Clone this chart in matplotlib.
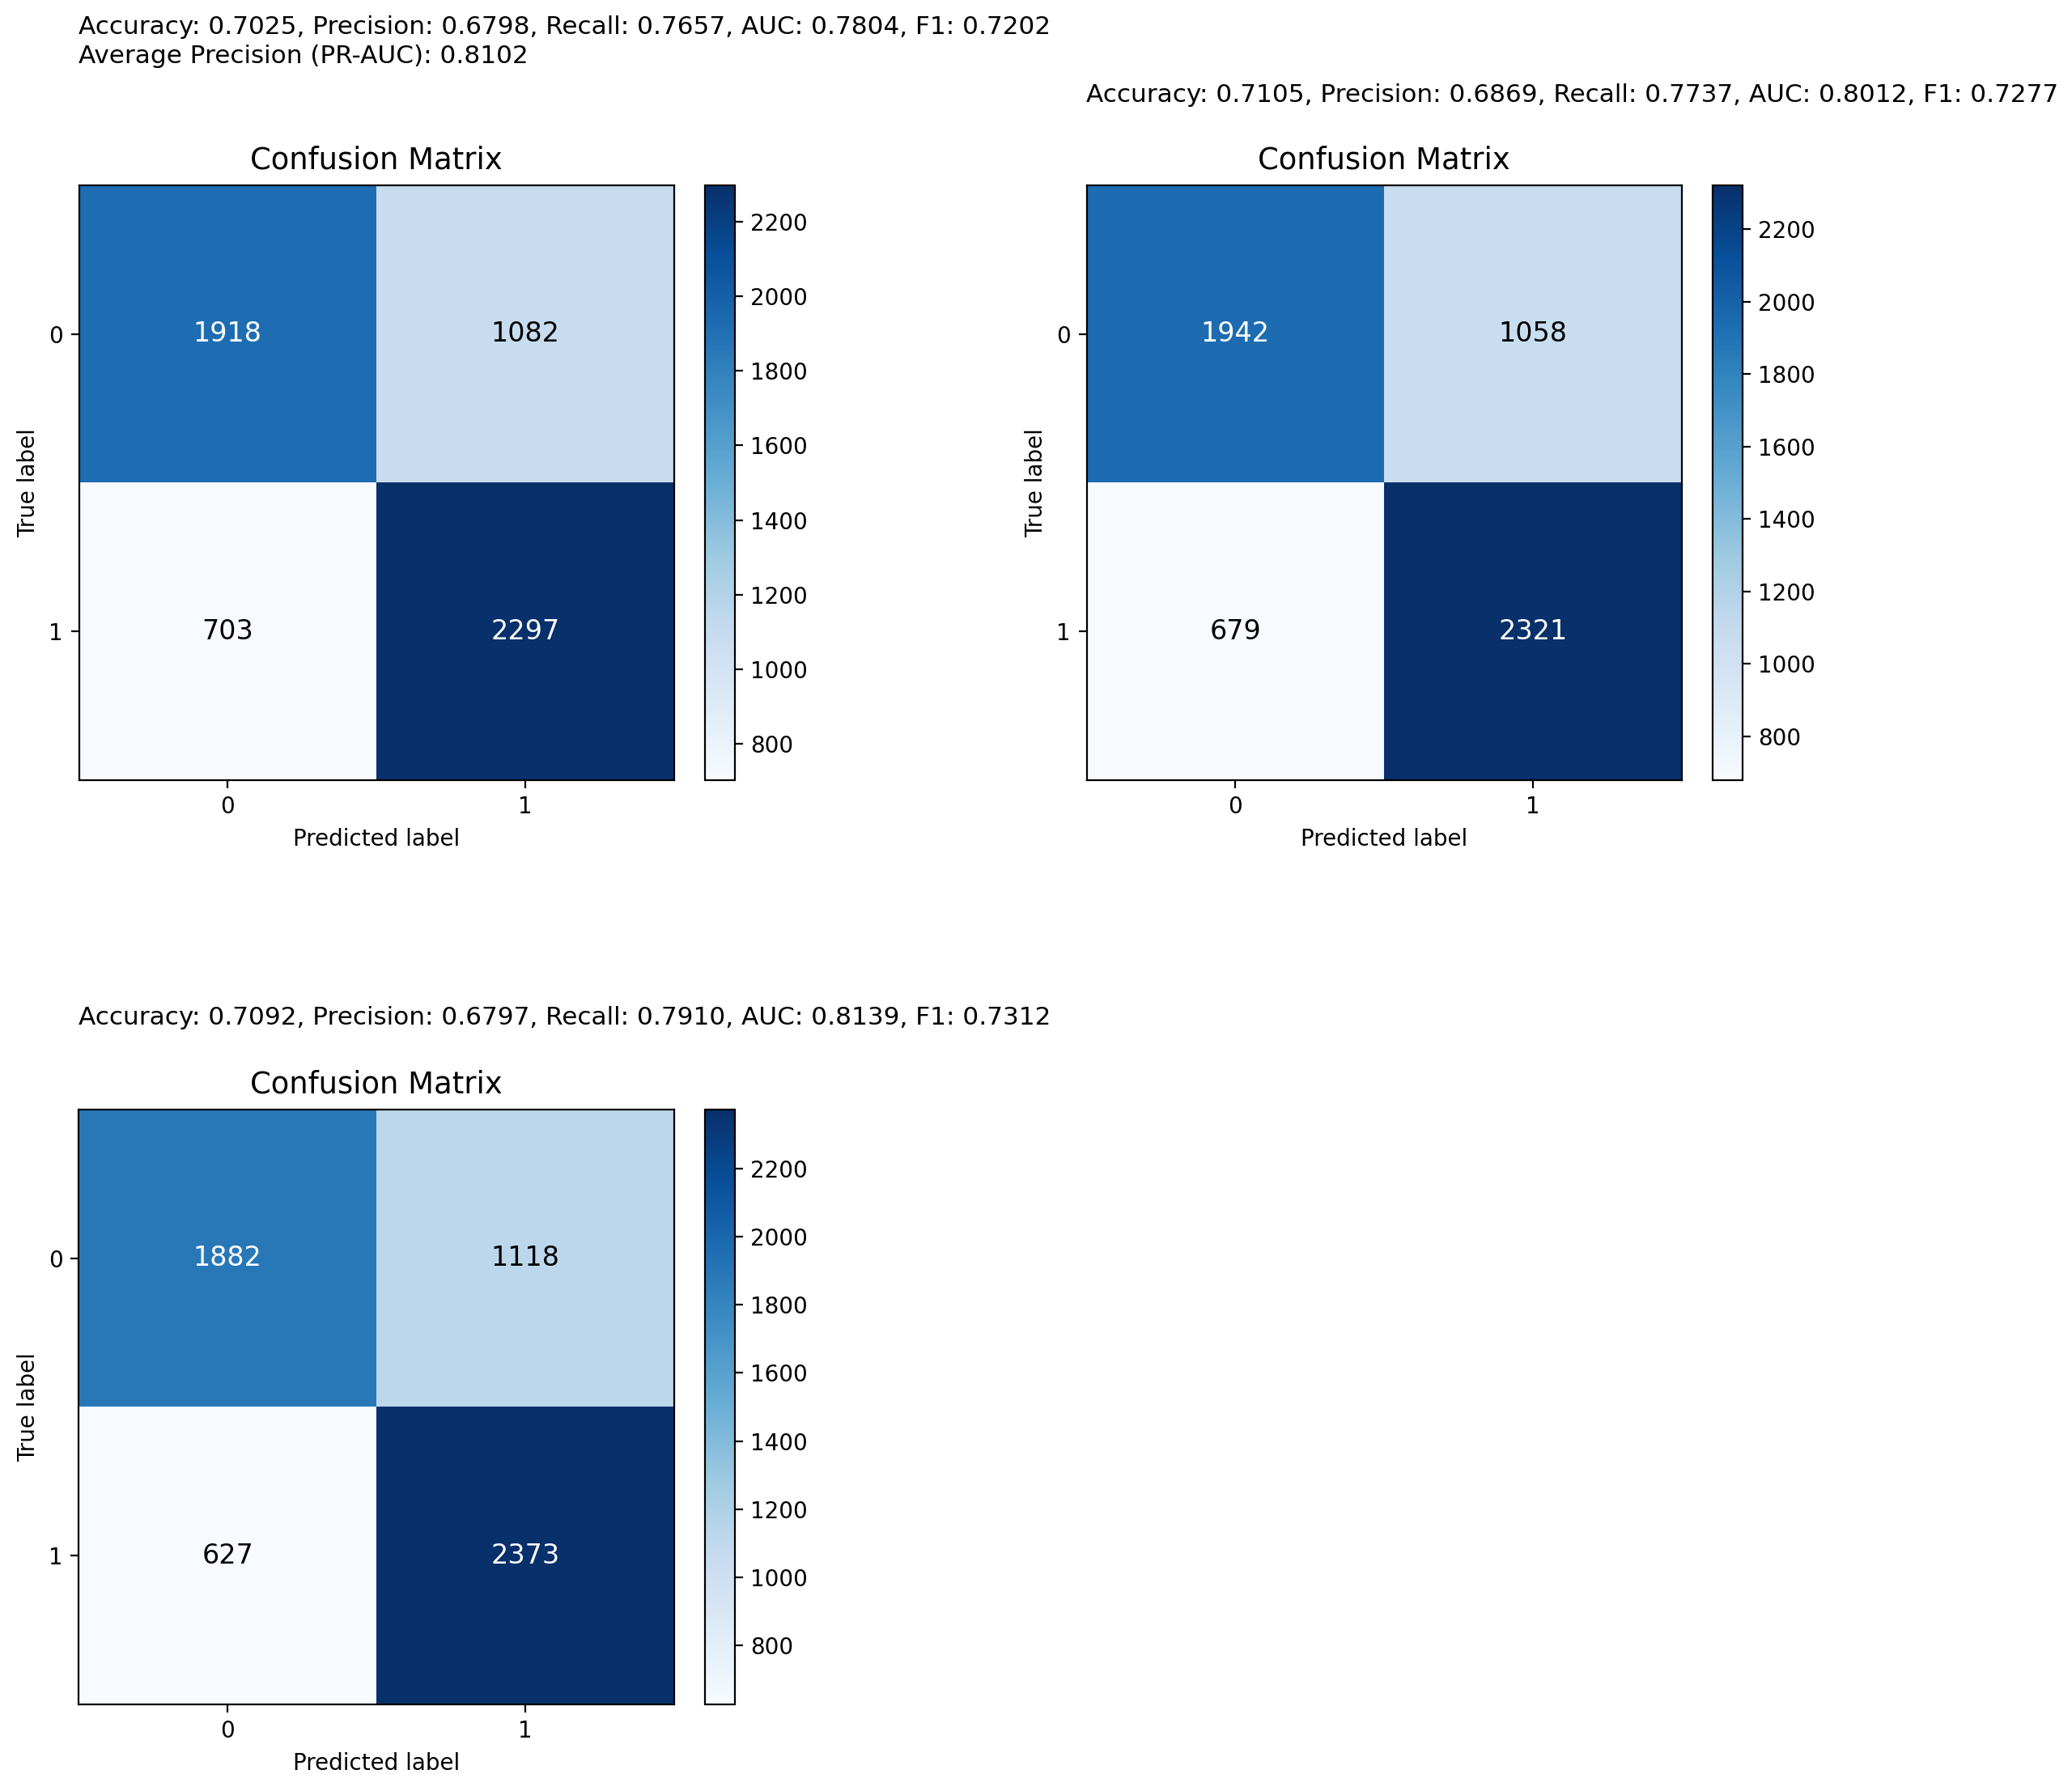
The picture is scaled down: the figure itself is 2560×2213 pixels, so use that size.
import numpy as np
from matplotlib import pyplot as plt

# confusion matrices of the three models (rows = true, cols = predicted)
cm_1 = [[1918, 1082], [703, 2297]]
cm_2 = [[1942, 1058], [679, 2321]]
cm_3 = [[1882, 1118], [627, 2373]]
class_labels = ['0', '1']

metrics_1 = ['Accuracy: 0.7025, Precision: 0.6798, Recall: 0.7657, AUC: 0.7804, F1: 0.7202',
             'Average Precision (PR-AUC): 0.8102']
metrics_2 = ['Accuracy: 0.7105, Precision: 0.6869, Recall: 0.7737, AUC: 0.8012, F1: 0.7277']
metrics_3 = ['Accuracy: 0.7092, Precision: 0.6797, Recall: 0.7910, AUC: 0.8139, F1: 0.7312']

W, H = 2560, 2213
fig = plt.figure(figsize=(W / 200, H / 200), dpi=200)


def px_box(x0, y0, w, h):
    # pixel box (top-left origin) -> figure fraction
    return [x0 / W, 1 - (y0 + h) / H, w / W, h / H]


def draw_cm(cm, left, top):
    cm = np.array(cm)
    ax = fig.add_axes(px_box(left, top, 736, 735))
    cax = fig.add_axes(px_box(left + 736 + 38, top, 37, 735))
    im = ax.imshow(cm, cmap='Blues', interpolation='nearest')
    fig.colorbar(im, cax=cax)
    thresh = (cm.max() + cm.min()) / 2
    for i in range(cm.shape[0]):
        for j in range(cm.shape[1]):
            color = 'white' if cm[i, j] > thresh else 'black'
            ax.text(j, i, str(cm[i, j]), ha='center', va='center',
                    color=color, fontsize=12)
    ax.set_xticks(range(len(class_labels)), class_labels)
    ax.set_yticks(range(len(class_labels)), class_labels)
    ax.set_xlabel('Predicted label')
    ax.set_ylabel('True label')
    ax.set_title('Confusion Matrix', fontsize=13.3, pad=7.5)
    return ax


def put_lines(lines, left, y_first, step=37):
    for k, line in enumerate(lines):
        fig.text(left / W, 1 - (y_first + k * step) / H, line,
                 ha='left', va='center', fontsize=11.2)


draw_cm(cm_1, 97, 229)
draw_cm(cm_2, 1342, 229)
draw_cm(cm_3, 97, 1371)

put_lines(metrics_1, 97, 33)
put_lines(metrics_2, 1342, 117)
put_lines(metrics_3, 97, 1258)

plt.savefig('out.png', dpi=200)
